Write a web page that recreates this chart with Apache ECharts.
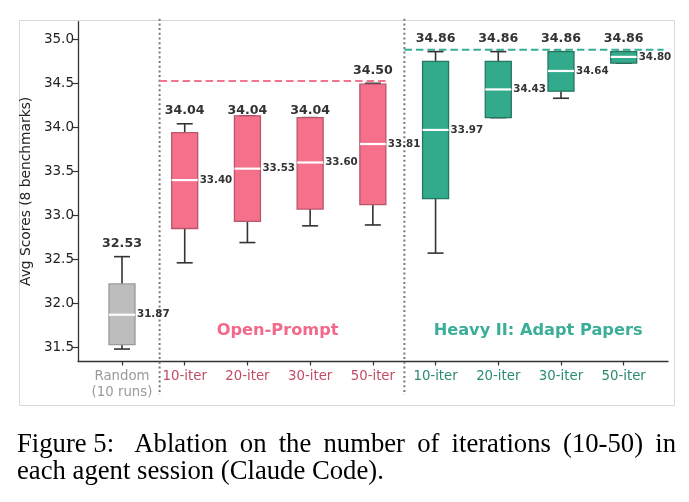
<!DOCTYPE html>
<html>
<head>
<meta charset="utf-8">
<script src="https://cdn.jsdelivr.net/npm/echarts@6/dist/echarts.min.js"></script>
<style>
html,body{margin:0;padding:0;background:#fff;}
#c{width:689px;height:502px;}
</style>
</head>
<body>
<div id="c"></div>
<script>
// ---- data ----
const categories = ['Random\n(10 runs)', '10-iter', '20-iter', '30-iter', '50-iter', '10-iter', '20-iter', '30-iter', '50-iter'];
const groups = ['random', 'open', 'open', 'open', 'open', 'heavy', 'heavy', 'heavy', 'heavy'];
const whiskerLow = [31.48, 32.46, 32.69, 32.88, 32.89, 32.57, 34.11, 34.33, 34.73];
const q1 = [31.53, 32.85, 32.93, 33.07, 33.12, 33.19, 34.11, 34.41, 34.73];
const medians = [31.87, 33.40, 33.53, 33.60, 33.81, 33.97, 34.43, 34.64, 34.80];
const q3 = [32.22, 33.94, 34.13, 34.11, 34.49, 34.75, 34.75, 34.86, 34.86];
const whiskerHigh = [32.53, 34.04, 34.13, 34.11, 34.50, 34.86, 34.86, 34.86, 34.86];
const maxLabels = [32.53, 34.04, 34.04, 34.04, 34.50, 34.86, 34.86, 34.86, 34.86];
const yTicks = [31.5, 32.0, 32.5, 33.0, 33.5, 34.0, 34.5, 35.0];
const dividers = [0.6, 4.5];
const bestLines = [
  { y: 34.525, x0: 0.6, x1: 4.22, group: 'open' },
  { y: 34.88, x0: 4.5, x1: 8.63, group: 'heavy' }
];
const groupTitles = [
  { text: 'Open-Prompt', x: 2.48, y: 31.70, group: 'open' },
  { text: 'Heavy II: Adapt Papers', x: 6.63, y: 31.70, group: 'heavy' }
];
const captionLabel = 'Figure 5:';
const captionLine1 = 'Ablation on the number of iterations (10-50) in';
const captionLine2 = 'each agent session (Claude Code).';

// ---- styles ----
const FONT = 'DejaVu Sans';
const fillColor = { random: '#BDBDBD', open: '#F5708A', heavy: '#32AB8D' };
const edgeColor = { random: '#9a9a9a', open: '#B8566B', heavy: '#25765F' };
const labelColor = { random: '#9a9a9a', open: '#C24D66', heavy: '#2A8B73' };
const titleColor = { open: '#F2698A', heavy: '#3AAE98' };
const dashColor = { open: '#F27590', heavy: '#35AE96' };
const Y_MIN = 31.344, Y_MAX = 35.2;
const CAP_FONT = '26.7px "Liberation Serif"';

const chart = echarts.init(document.getElementById('c'), null, { renderer: 'canvas' });

const boxData = categories.map((c, i) => [i, whiskerLow[i], q1[i], medians[i], q3[i], whiskerHigh[i], maxLabels[i]]);

function renderBox(params, api) {
  const i = api.value(0);
  const g = groups[i];
  const p = (v) => api.coord([i, v]);
  const x = p(api.value(3))[0];
  const yLo = p(api.value(1))[1], yQ1 = p(api.value(2))[1], yMed = p(api.value(3))[1];
  const yQ3 = p(api.value(4))[1], yHi = p(api.value(5))[1], yMax = p(api.value(6))[1];
  const hb = 13, hc = 8;
  const wStyle = { stroke: '#333', lineWidth: 1.6 };
  return {
    type: 'group',
    children: [
      { type: 'line', shape: { x1: x, y1: yHi, x2: x, y2: yQ3 }, style: wStyle },
      { type: 'line', shape: { x1: x - hc, y1: yHi, x2: x + hc, y2: yHi }, style: wStyle },
      { type: 'line', shape: { x1: x, y1: yLo, x2: x, y2: yQ1 }, style: wStyle },
      { type: 'line', shape: { x1: x - hc, y1: yLo, x2: x + hc, y2: yLo }, style: wStyle },
      { type: 'rect', shape: { x: x - hb, y: yQ3, width: 2 * hb, height: yQ1 - yQ3 },
        style: { fill: fillColor[g], stroke: edgeColor[g], lineWidth: 1.3 } },
      { type: 'line', shape: { x1: x - hb, y1: yMed, x2: x + hb, y2: yMed }, style: { stroke: '#fff', lineWidth: 2.2 } },
      { type: 'text', x: x + hb + 2, y: yMed,
        style: { text: api.value(3).toFixed(2), fill: '#333', font: 'bold 10.3px "' + FONT + '"', verticalAlign: 'middle', align: 'left' } },
      { type: 'text', x: x, y: yMax - 13,
        style: { text: api.value(6).toFixed(2), fill: '#333', font: 'bold 12.6px "' + FONT + '"', verticalAlign: 'middle', align: 'center' } }
    ]
  };
}

function renderDivider(params, api) {
  const x = api.coord([api.value(0), Y_MAX])[0];
  const top = api.coord([api.value(0), Y_MAX])[1] - 3;
  const bottom = api.coord([api.value(0), Y_MIN])[1] + 34;
  return { type: 'line', shape: { x1: x, y1: top, x2: x, y2: bottom },
    style: { stroke: '#777', lineWidth: 2, lineDash: [2, 2.7] } };
}

function renderBest(params, api) {
  const d = bestLines[params.dataIndex];
  const a = api.coord([d.x0, d.y]), b = api.coord([d.x1, d.y]);
  return { type: 'line', shape: { x1: a[0], y1: a[1], x2: b[0], y2: b[1] },
    style: { stroke: dashColor[d.group], lineWidth: 2, lineDash: [7.5, 4] } };
}

function renderTitle(params, api) {
  const d = groupTitles[params.dataIndex];
  const a = api.coord([d.x, d.y]);
  return { type: 'text', x: a[0], y: a[1] + 1,
    style: { text: d.text, fill: titleColor[d.group], font: 'bold 16.2px "' + FONT + '"', align: 'center', verticalAlign: 'middle' } };
}

// justified first caption line (LaTeX-like)
const measureCtx = document.createElement('canvas').getContext('2d');
measureCtx.font = CAP_FONT;
const capLeft = 17, capRight = 676;
const words1 = captionLine1.split(' ');
const labelW = measureCtx.measureText(captionLabel).width;
const labelGapExtra = 8;
const wordsW = words1.reduce((s, w) => s + measureCtx.measureText(w).width, 0);
const gap = (capRight - capLeft - labelW - labelGapExtra - wordsW) / words1.length;
const captionGraphics = [{ type: 'text', left: capLeft, top: 431, style: { text: captionLabel, font: CAP_FONT, fill: '#000' } }];
let cx = capLeft + labelW + labelGapExtra + gap;
words1.forEach(w => {
  captionGraphics.push({ type: 'text', left: cx, top: 431, style: { text: w, font: CAP_FONT, fill: '#000' } });
  cx += measureCtx.measureText(w).width + gap;
});
captionGraphics.push({ type: 'text', left: capLeft, top: 458, style: { text: captionLine2, font: CAP_FONT, fill: '#000' } });

const option = {
  backgroundColor: '#fff',
  animation: false,
  grid: [
    { left: 78, right: 21, top: 21.7, bottom: 141 },
    { left: 90.64, right: 33.94, top: 21.7, bottom: 141 }
  ],
  xAxis: [
    { gridIndex: 0, type: 'value', min: -0.7, max: 8.7,
      axisLine: { show: true, onZero: false, lineStyle: { color: '#333', width: 1.3 } },
      axisTick: { show: false }, axisLabel: { show: false }, splitLine: { show: false } },
    { gridIndex: 1, type: 'category', data: categories,
      axisLine: { show: false, onZero: false },
      axisTick: { show: true, alignWithLabel: true, interval: 0, length: 4.5, lineStyle: { color: '#333', width: 1.2 } },
      axisLabel: { interval: 0, margin: 8, fontFamily: FONT, fontSize: 13.3, lineHeight: 16,
        color: (v, idx) => labelColor[groups[idx]] },
      splitLine: { show: false } }
  ],
  yAxis: [
    { gridIndex: 0, type: 'value', min: Y_MIN, max: Y_MAX,
      name: 'Avg Scores (8 benchmarks)', nameLocation: 'middle', nameGap: 44,
      nameTextStyle: { fontFamily: FONT, fontSize: 13.8, color: '#222' },
      axisLine: { show: true, onZero: false, lineStyle: { color: '#333', width: 1.3 } },
      axisTick: { show: true, length: 5, customValues: yTicks, lineStyle: { color: '#333', width: 1.2 } },
      axisLabel: { customValues: yTicks, formatter: (v) => Number(v).toFixed(1), margin: 4,
        fontFamily: FONT, fontSize: 13.5, color: '#222' },
      splitLine: { show: false } },
    { gridIndex: 1, type: 'value', min: Y_MIN, max: Y_MAX, show: false, axisLine: { onZero: false }, splitLine: { show: false } }
  ],
  series: [
    { type: 'custom', xAxisIndex: 0, yAxisIndex: 0, data: dividers.map(d => [d]), renderItem: renderDivider, silent: true, z: 1 },
    { type: 'custom', xAxisIndex: 0, yAxisIndex: 0, data: bestLines.map(d => [d.x0, d.y]), renderItem: renderBest, silent: true, z: 2 },
    { type: 'custom', xAxisIndex: 0, yAxisIndex: 0, data: groupTitles.map(d => [d.x, d.y]), renderItem: renderTitle, silent: true, z: 3 },
    { type: 'custom', xAxisIndex: 1, yAxisIndex: 1, data: boxData, renderItem: renderBox, silent: true, z: 4,
      encode: { x: 0, y: [1, 2, 3, 4, 5, 6] } }
  ],
  graphic: [
    { type: 'rect', left: 17, top: 18, shape: { width: 655, height: 385 }, style: { fill: 'none', stroke: '#d8d8d8', lineWidth: 1 }, z: -1 }
  ].concat(captionGraphics)
};
chart.setOption(option);
</script>
</body>
</html>
